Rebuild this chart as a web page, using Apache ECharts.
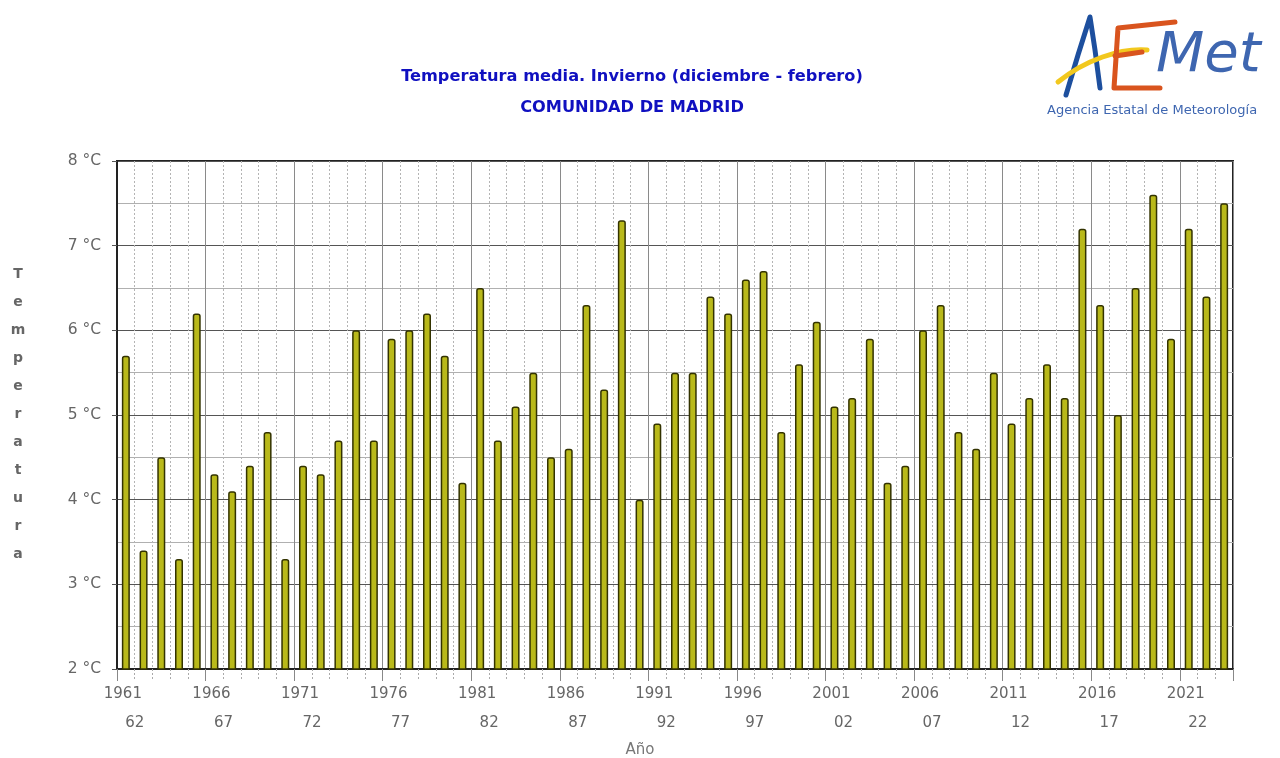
<!DOCTYPE html>
<html><head><meta charset="utf-8">
<script src="https://cdn.jsdelivr.net/npm/echarts@6/dist/echarts.min.js"></script>
<style>html,body{margin:0;padding:0;background:#fff;overflow:hidden}#c{width:1280px;height:758px}</style>
</head><body><div id="c"></div>
<script>
const years = [];
for (let y = 1961; y <= 2023; y++) years.push(String(y));
const temps = [5.7,3.4,4.5,3.3,6.2,4.3,4.1,4.4,4.8,3.3,
  4.4,4.3,4.7,6.0,4.7,5.9,6.0,6.2,5.7,4.2,
  6.5,4.7,5.1,5.5,4.5,4.6,6.3,5.3,7.3,4.0,
  4.9,5.5,5.5,6.4,6.2,6.6,6.7,4.8,5.6,6.1,
  5.1,5.2,5.9,4.2,4.4,6.0,6.3,4.8,4.6,5.5,
  4.9,5.2,5.6,5.2,7.2,6.3,5.0,6.5,7.6,5.9,
  7.2,6.4,7.5];
const yTicks = [2,3,4,5,6,7,8];
const titleText = 'Temperatura media. Invierno (diciembre - febrero)';
const subText = 'COMUNIDAD DE MADRID';
const xName = 'Año';
const yName = 'Temperatura';

const chart = echarts.init(document.getElementById('c'), null, {width: 1280, height: 758});
const F = 'DejaVu Sans';
chart.setOption({
  animation: false,
  backgroundColor: '#fff',
  grid: {left: 117, top: 161, width: 1116, height: 508, show: true, borderColor: '#222', borderWidth: 2, containLabel: false, outerBoundsMode: 'none'},
  xAxis: [{
    type: 'category', data: years, boundaryGap: true,
    axisLine: {show: true, lineStyle: {color: '#222', width: 2}},
    axisTick: {show: true, interval: 0, length: 10, lineStyle: {color: '#aaa', type: [2,2]}},
    axisLabel: {show: false},
    splitLine: {show: true, interval: 0, lineStyle: {color: '#b4b4b4', type: [2,2], width: 1}}
  }, {
    type: 'category', data: years, boundaryGap: true, position: 'bottom',
    axisLine: {show: false},
    axisTick: {show: true, interval: 4, length: 12, lineStyle: {color: '#888', width: 1}},
    axisLabel: {
      show: true, interval: 4, margin: 11,
      formatter: function (v) { return '{a|' + v + '}\n{b|' + String(Number(v) + 1).slice(2) + '}'; },
      rich: {
        a: {fontFamily: F, fontSize: 15, color: '#666', padding: [0, 6, 0, 0], lineHeight: 29},
        b: {fontFamily: F, fontSize: 15, color: '#666', padding: [0, 0, 0, 18], lineHeight: 29}
      }
    },
    splitLine: {show: true, interval: 4, lineStyle: {color: '#8a8a8a', width: 1}}
  }],
  yAxis: {
    type: 'value', min: yTicks[0], max: yTicks[yTicks.length - 1], interval: 1,
    axisLine: {show: true, lineStyle: {color: '#222', width: 2}},
    axisTick: {show: true, length: 5, lineStyle: {color: '#555'}},
    axisLabel: {formatter: '{value} °C', fontFamily: F, fontSize: 15.5, color: '#666', margin: 16},
    splitLine: {show: true, lineStyle: {color: '#555', width: 1}},
    minorTick: {show: false, splitNumber: 2},
    minorSplitLine: {show: true, lineStyle: {color: '#b0b0b0', width: 1}}
  },
  series: [{
    type: 'bar', data: temps, xAxisIndex: 0, barWidth: 8,
    itemStyle: {color: '#b9b91a', borderColor: '#333300', borderWidth: 1.5, borderRadius: [2, 2, 0, 0]},
    z: 5
  }],
  graphic: [
    {type: 'text', x: 632, y: 69, style: {text: titleText, fontFamily: F, fontSize: 16.2, fontWeight: 'bold', fill: '#1010c0', align: 'center'}},
    {type: 'text', x: 632, y: 100, style: {text: subText, fontFamily: F, fontSize: 16.2, fontWeight: 'bold', fill: '#1010c0', align: 'center'}},
    {type: 'text', x: 640, y: 750, style: {text: xName, fontFamily: F, fontSize: 15, fill: '#777', align: 'center', verticalAlign: 'middle'}},
    {type: 'text', x: 18, y: 260, style: {text: yName.split('').join('\n'), fontFamily: F, fontSize: 14, fontWeight: 'bold', fill: '#666', align: 'center', lineHeight: 28}},
    // logo
    {type: 'polyline', shape: {points: [[1066, 95], [1078, 55], [1090, 17], [1095, 50], [1100, 88]]}, style: {stroke: '#1d4f9e', lineWidth: 5, fill: null, lineCap: 'round', lineJoin: 'round'}},
    {type: 'bezierCurve', shape: {x1: 1058, y1: 82, cpx1: 1085, cpy1: 60, x2: 1147, y2: 50, cpx2: 1120, cpy2: 48}, style: {stroke: '#f2c81e', lineWidth: 5, fill: null, lineCap: 'round'}},
    {type: 'polyline', shape: {points: [[1175, 22], [1118, 28], [1114, 88], [1160, 88]]}, style: {stroke: '#d9541e', lineWidth: 5, fill: null, lineCap: 'round', lineJoin: 'round'}},
    {type: 'line', shape: {x1: 1115, y1: 56, x2: 1142, y2: 52}, style: {stroke: '#d9541e', lineWidth: 5, lineCap: 'round'}},
    {type: 'text', x: 1156, y: 28, style: {text: 'Met', fontFamily: F, fontSize: 56, fontStyle: 'italic', fill: '#3e66b0'}},
    {type: 'text', x: 1047, y: 104, style: {text: 'Agencia Estatal de Meteorología', fontFamily: F, fontSize: 13, fill: '#3e66b0'}}
  ]
});
</script></body></html>
